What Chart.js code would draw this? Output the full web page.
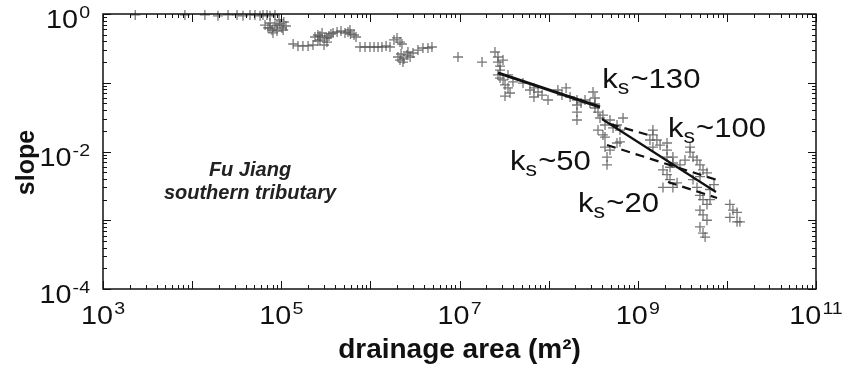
<!DOCTYPE html>
<html>
<head>
<meta charset="utf-8">
<script src="https://cdn.jsdelivr.net/npm/chart.js@4.4.1/dist/chart.umd.min.js"></script>
<style>
  html, body { margin: 0; padding: 0; background: #fff; }
  #wrap { width: 857px; height: 370px; }
</style>
</head>
<body>
<div id="wrap"><canvas id="slopeChart" width="857" height="370"></canvas></div>
<script>
const FONT = '"Liberation Sans", Arial, Helvetica, sans-serif';

// axis tick labels
const xTickValues = [1e3, 1e5, 1e7, 1e9, 1e11];
const yTickValues = [1e-4, 1e-2, 1];

// slope-area data, [drainage area m2, slope]
const headwaterPoints = [
  [2.3e3, 0.97], [8.3e3, 0.97], [1.39e4, 0.97], [1.95e4, 0.94], [2.53e4, 0.97],
  [3.19e4, 0.97], [3.72e4, 0.94], [4.46e4, 0.97], [5.07e4, 0.97], [5.78e4, 0.94],
  [6.24e4, 0.97], [6.92e4, 0.97], [7.48e4, 0.94], [8.51e4, 0.97]
];
const upperPoints = [
  [6.57e4, 0.69], [7.1e4, 0.63], [7.48e4, 0.74], [7.87e4, 0.585], [8.51e4, 0.67],
  [8.96e4, 0.566], [9.69e4, 0.716], [1.02e5, 0.626], [1.07e5, 0.765], [1.13e5, 0.669],
  [8.08e4, 0.53], [9.44e4, 0.82], [7.48e4, 0.626], [8.96e4, 0.69], [1.05e5, 0.585],
  [1.36e5, 0.366], [1.54e5, 0.343], [1.75e5, 0.343], [2.0e5, 0.343], [2.27e5, 0.354],
  [2.39e5, 0.463], [2.58e5, 0.495], [2.72e5, 0.419], [2.87e5, 0.529], [3.09e5, 0.448],
  [3.26e5, 0.391], [3.43e5, 0.479], [3.61e5, 0.512], [2.58e5, 0.405], [3.02e5, 0.354],
  [2.72e5, 0.479], [3.26e5, 0.448],
  [3.81e5, 0.529], [4.23e5, 0.547], [4.68e5, 0.566], [5.19e5, 0.529], [5.61e5, 0.547],
  [5.98e5, 0.512], [6.55e5, 0.495], [6.9e5, 0.463], [5.9e5, 0.585]
];
const middlePoints = [
  [7.65e5, 0.331], [8.71e5, 0.331], [9.9e5, 0.331], [1.1e6, 0.331], [1.22e6, 0.331],
  [1.35e6, 0.331], [1.5e6, 0.343], [1.66e6, 0.331],
  [1.84e6, 0.419], [1.99e6, 0.448], [2.15e6, 0.391], [2.26e6, 0.366],
  [2.04e6, 0.237], [2.21e6, 0.262], [2.38e6, 0.222], [2.58e6, 0.253], [2.79e6, 0.237],
  [3.01e6, 0.271], [2.32e6, 0.2], [2.64e6, 0.28], [2.15e6, 0.214],
  [3.42e6, 0.299], [3.89e6, 0.32], [4.43e6, 0.32], [4.91e6, 0.331],
  [9.62e6, 0.237], [1.79e7, 0.2]
];
const lowerPoints = [
  [2.5e7, 0.28], [2.7e7, 0.237], [2.7e7, 0.2], [2.85e7, 0.175], [2.85e7, 0.153],
  [3.08e7, 0.214], [2.7e7, 0.13], [2.85e7, 0.117], [3.08e7, 0.11], [3.24e7, 0.093],
  [3.5e7, 0.084], [3.69e7, 0.071], [3.24e7, 0.064], [3.5e7, 0.13], [3.98e7, 0.103],
  [5.16e7, 0.099], [6.18e7, 0.0785], [6.85e7, 0.084], [7.6e7, 0.0734], [8.43e7, 0.0662],
  [6.85e7, 0.062], [9.84e7, 0.0561], [1.27e8, 0.0785], [1.41e8, 0.0662], [1.57e8, 0.084],
  [1.74e8, 0.062], [2.08e8, 0.0561], [2.08e8, 0.0475], [2.08e8, 0.0375], [2.08e8, 0.0287],
  [2.31e8, 0.0508], [2.56e8, 0.0561], [3.15e8, 0.0734], [3.31e8, 0.06], [3.31e8, 0.0491],
  [3.31e8, 0.0429], [2.91e8, 0.0508], [3.58e8, 0.0375], [3.77e8, 0.0307], [4.07e8, 0.0339],
  [4.29e8, 0.0243], [4.88e8, 0.0287], [5.28e8, 0.022], [5.85e8, 0.0243], [6.32e8, 0.0205],
  [3.58e8, 0.0205], [4.29e8, 0.0162], [4.29e8, 0.0116], [4.52e8, 0.0064], [4.88e8, 0.0105],
  [5.85e8, 0.0133], [6.32e8, 0.0138], [4.07e8, 0.0174], [4.52e8, 0.0083], [6.84e8, 0.0307]
];
const trunkPoints = [
  [1.37e9, 0.0147], [1.48e9, 0.0205], [1.48e9, 0.0174], [1.64e9, 0.0147], [1.48e9, 0.0116],
  [1.78e9, 0.0124], [2.13e9, 0.0133], [2.13e9, 0.0105], [2.13e9, 0.0083], [2.48e9, 0.0083],
  [2.48e9, 0.0068], [2.3e9, 0.0059], [1.92e9, 0.0054], [2.13e9, 0.0046], [2.3e9, 0.0039],
  [2.48e9, 0.003], [1.92e9, 0.003], [2.76e9, 0.0035], [2.98e9, 0.0064], [3.39e9, 0.0075],
  [3.86e9, 0.0116], [3.86e9, 0.0098], [4.17e9, 0.0083], [4.62e9, 0.0075], [4.99e9, 0.0064],
  [5.4e9, 0.0054], [5.98e9, 0.0049], [4.99e9, 0.0043], [4.17e9, 0.0039], [4.62e9, 0.003],
  [4.99e9, 0.0023], [5.4e9, 0.002], [5.98e9, 0.0017], [4.99e9, 0.0014], [5.4e9, 0.0012],
  [5.98e9, 0.001], [4.99e9, 0.0008], [5.4e9, 0.00065], [5.7e9, 0.00057], [6.47e9, 0.0028],
  [7.17e9, 0.0033], [6.47e9, 0.002],
  [1.08e10, 0.0017], [1.17e10, 0.0014], [1.3e10, 0.0013], [1.08e10, 0.0011],
  [1.4e10, 0.00095], [1.3e10, 0.00095]
];

// steepness fits, end points
const fit130Area = [2.7e7, 3.77e8];
const fit130Slope = [0.139, 0.0444];
const trendArea = [3.97e8, 7.55e9];
const trendSlope = [0.0297, 0.00258];
const fit100Area = [4.88e8, 1.45e9];
const fit100Slope = [0.0251, 0.0168];
const fit50Area = [4.52e8, 7.75e9];
const fit50Slope = [0.01244, 0.00385];
const fit20Area = [2.18e9, 7.75e9];
const fit20Slope = [0.0036, 0.00211];

// ks labels: text, anchored at (area, slope) of the left baseline
const ksLabels = ['130', '100', '50', '20'];
const ksLabelArea = [4.0e8, 2.18e9, 3.69e7, 2.14e8];
const ksLabelSlope = [0.084, 0.0162, 0.0054, 0.0013];

const STRETCH = 1.15;

function toXY(areas, slopes) {
  return areas.map((a, i) => ({ x: a, y: slopes[i] }));
}

function fitDataset(areas, slopes, dashed, width) {
  return {
    type: 'line',
    data: toXY(areas, slopes),
    borderColor: '#111',
    borderWidth: width,
    borderDash: dashed ? [9, 6] : [],
    pointRadius: 0,
    fill: false,
    clip: false
  };
}

// "10" with a raised exponent, align 'center' or 'right'
function drawPower(ctx, x, baseline, value, align) {
  const exp = String(Math.round(Math.log10(value)));
  ctx.save();
  ctx.font = '25px ' + FONT;
  const wBase = ctx.measureText('10').width;
  ctx.font = '17px ' + FONT;
  const wExp = ctx.measureText(exp).width;
  const total = (wBase + wExp + 1) * STRETCH;
  const start = align === 'right' ? x - total : x - total / 2;
  ctx.translate(start, baseline);
  ctx.scale(STRETCH, 1);
  ctx.textAlign = 'left';
  ctx.textBaseline = 'alphabetic';
  ctx.font = '25px ' + FONT;
  ctx.fillText('10', 0, 0);
  ctx.font = '17px ' + FONT;
  ctx.fillText(exp, wBase + 1, -10);
  ctx.restore();
}

const allPoints = [...headwaterPoints, ...upperPoints, ...middlePoints, ...lowerPoints, ...trunkPoints];

// box, inward log ticks and text labels
const framePlugin = {
  id: 'frame',
  afterDatasetsDraw(chart) {
    const { ctx, scales } = chart;
    const xs = scales.x;
    const ys = scales.y;
    ctx.save();
    ctx.fillStyle = '#111';
    ksLabels.forEach((txt, i) => {
      const px = xs.getPixelForValue(ksLabelArea[i]);
      const py = ys.getPixelForValue(ksLabelSlope[i]);
      ctx.save();
      ctx.translate(px, py);
      ctx.scale(STRETCH, 1);
      ctx.textAlign = 'left';
      ctx.textBaseline = 'alphabetic';
      ctx.font = '27px ' + FONT;
      ctx.fillText('k', 0, 0);
      let w = ctx.measureText('k').width;
      ctx.font = '20px ' + FONT;
      ctx.fillText('s', w, 6);
      w += ctx.measureText('s').width + 1;
      ctx.font = '27px ' + FONT;
      ctx.fillText('~' + txt, w, 0);
      ctx.restore();
    });

    ctx.font = 'italic bold 20px ' + FONT;
    ctx.textAlign = 'center';
    ctx.textBaseline = 'alphabetic';
    ctx.fillStyle = '#222';
    ctx.fillText('Fu Jiang', xs.getPixelForValue(4.46e4), ys.getPixelForValue(0.0044));
    ctx.fillText('southern tributary', xs.getPixelForValue(4.46e4), ys.getPixelForValue(0.00204));
    ctx.restore();
  },
  afterDraw(chart) {
    const { ctx, chartArea: a, scales } = chart;
    ctx.save();
    ctx.fillStyle = '#111';
    xTickValues.forEach((v) => {
      drawPower(ctx, scales.x.getPixelForValue(v), a.bottom + 35, v, 'center');
    });
    yTickValues.forEach((v) => {
      drawPower(ctx, a.left - 13, scales.y.getPixelForValue(v) + 14, v, 'right');
    });

    // y title, sits a little below the middle in the original
    ctx.save();
    ctx.translate(27, (a.top + a.bottom) / 2 + 11);
    ctx.rotate(-Math.PI / 2);
    ctx.font = 'bold 25px ' + FONT;
    ctx.textAlign = 'center';
    ctx.textBaseline = 'middle';
    ctx.fillText('slope', 0, 0);
    ctx.restore();

    ctx.strokeStyle = '#111';
    ctx.lineWidth = 1.5;
    ctx.strokeRect(a.left, a.top, a.right - a.left, a.bottom - a.top);
    ctx.lineWidth = 1;
    ctx.beginPath();
    for (let e = 3; e <= 11; e++) {
      for (let m = 1; m <= 9; m++) {
        if (e === 11 && m > 1) break;
        const px = Math.round(scales.x.getPixelForValue(m * Math.pow(10, e))) + 0.5;
        const len = m === 1 ? 8 : 4;
        ctx.moveTo(px, a.bottom);
        ctx.lineTo(px, a.bottom - len);
        ctx.moveTo(px, a.top);
        ctx.lineTo(px, a.top + len);
      }
    }
    for (let e = -4; e <= 0; e++) {
      for (let m = 1; m <= 9; m++) {
        if (e === 0 && m > 1) break;
        const py = Math.round(scales.y.getPixelForValue(m * Math.pow(10, e))) + 0.5;
        const len = m === 1 ? 8 : 4;
        ctx.moveTo(a.left, py);
        ctx.lineTo(a.left + len, py);
        ctx.moveTo(a.right, py);
        ctx.lineTo(a.right - len, py);
      }
    }
    ctx.stroke();
    ctx.restore();
  }
};

new Chart(document.getElementById('slopeChart'), {
  type: 'scatter',
  data: {
    datasets: [
      fitDataset(fit130Area, fit130Slope, false, 3),
      fitDataset(trendArea, trendSlope, false, 2.2),
      fitDataset(fit100Area, fit100Slope, true, 2.2),
      fitDataset(fit50Area, fit50Slope, true, 2.2),
      fitDataset(fit20Area, fit20Slope, true, 2.2),
      {
        data: allPoints.map(([x, y]) => ({ x, y })),
        pointStyle: 'cross',
        pointRadius: 5,
        pointBorderWidth: 1.3,
        borderColor: 'rgba(85,85,85,0.8)',
        backgroundColor: 'rgba(85,85,85,0.8)',
        clip: false
      }
    ]
  },
  options: {
    responsive: false,
    animation: false,
    layout: { padding: { top: 14, right: 41, left: 0, bottom: 0 } },
    plugins: { legend: { display: false }, tooltip: { enabled: false } },
    scales: {
      x: {
        type: 'logarithmic',
        position: 'bottom',
        min: 1e3,
        max: 1e11,
        afterBuildTicks: (s) => { s.ticks = xTickValues.map((v) => ({ value: v })); },
        afterFit: (s) => { s.height = 81; },
        grid: { display: false, drawTicks: false },
        border: { display: false },
        ticks: { display: false },
        title: {
          display: true,
          text: 'drainage area (m\u00b2)',
          font: { family: FONT, size: 28, weight: 'bold' },
          color: '#111',
          padding: { top: 0, bottom: 3 }
        }
      },
      y: {
        type: 'logarithmic',
        min: 1e-4,
        max: 1,
        afterBuildTicks: (s) => { s.ticks = yTickValues.map((v) => ({ value: v })); },
        afterFit: (s) => { s.width = 103; },
        grid: { display: false, drawTicks: false },
        border: { display: false },
        ticks: { display: false },
        title: { display: false, text: 'slope' }
      }
    }
  },
  plugins: [framePlugin]
});
</script>
</body>
</html>
